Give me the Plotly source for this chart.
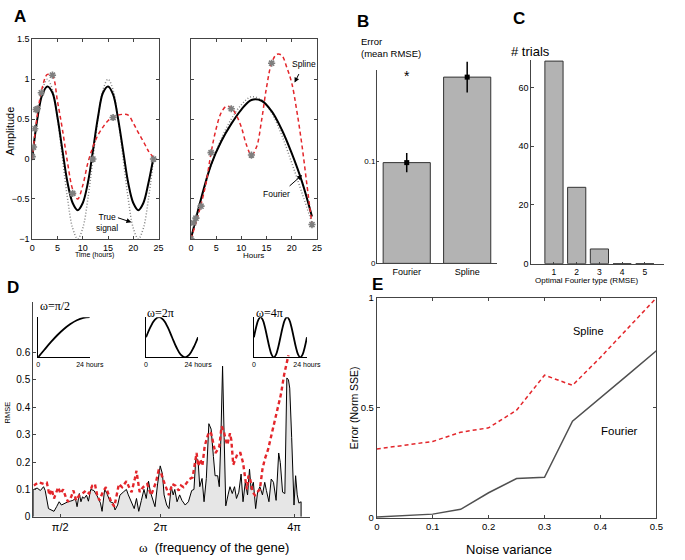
import plotly.graph_objects as go

W, H = 685, 560
def fx(p): return p / W
def fy(p): return 1 - p / H

FONT = "Liberation Sans, Arial, sans-serif"
SERIF = "Liberation Serif, Times New Roman, serif"
RED = "#e3262b"

# ---------------- Panel A data ----------------
a_hours = list(range(25))
a1_true = [0, 0.5, 0.866, 1, 0.866, 0.5, 0, -0.5, -0.866, -1, -0.866, -0.5, 0,
           0.5, 0.866, 1, 0.866, 0.5, 0, -0.5, -0.866, -1, -0.866, -0.5, 0]
a1_fourier = [0.02, 0.5, 0.81, 0.91, 0.83, 0.52, 0.1, -0.3, -0.55, -0.64, -0.55, -0.3, 0.1,
              0.52, 0.83, 0.91, 0.81, 0.5, 0.1, -0.3, -0.55, -0.64, -0.55, -0.3, 0.02]
a1_spline = [0.0, 0.55, 0.9, 1.06, 1.04, 0.72, 0.36, -0.05, -0.38, -0.5, -0.33, -0.05, 0.15,
             0.3, 0.4, 0.48, 0.52, 0.55, 0.56, 0.55, 0.45, 0.33, 0.22, 0.1, 0.02]
a1_pt_t = [0, 0.25, 0.5, 0.75, 1, 1.8, 4, 8, 12, 16, 24]
a1_pt_y = [0.03, 0.15, 0.38, 0.62, 0.63, 0.83, 1.05, -0.43, 0.0, 0.52, 0.0]

a2_hours = [0, 2, 4, 6, 8, 10, 12, 14, 16, 18, 20, 22, 24]
a2_true = [-1.0, -0.52, -0.08, 0.25, 0.5, 0.68, 0.78, 0.74, 0.58, 0.3, -0.05, -0.42, -0.8]
a2_fourier = [-1.0, -0.5, -0.07, 0.22, 0.44, 0.62, 0.74, 0.73, 0.6, 0.37, 0.07, -0.28, -0.72]
a2_spline_t = list(range(25))
a2_spline = [-1.0, -0.8, -0.57, -0.3, 0.08, 0.38, 0.58, 0.66, 0.64, 0.55, 0.4, 0.18, 0.05,
             0.15, 0.48, 0.9, 1.2, 1.31, 1.3, 1.15, 0.95, 0.6, 0.18, -0.32, -0.82]
a2_pt_t = [0, 0.5, 1, 2, 4, 8, 12, 16, 24]
a2_pt_y = [-1.0, -0.8, -0.74, -0.59, 0.08, 0.63, 0.05, 1.2, -0.82]

# ---------------- Panel B data ----------------
b_methods = ["Fourier", "Spline"]
b_mean_rmse = [0.099, 0.183]
b_err = [0.0095, 0.015]

# ---------------- Panel C data ----------------
c_types = [1, 2, 3, 4, 5]
c_trials = [69, 26, 5, 0, 0]

# ---------------- Panel D data (omega in units of pi) ----------------
d_omega_f = [0.097, 0.106, 0.155, 0.204, 0.252, 0.276, 0.325, 0.374, 0.408, 0.447, 0.485, 0.519,
             0.568, 0.617, 0.651, 0.690, 0.728, 0.753, 0.787, 0.811, 0.835, 0.860, 0.894, 0.923,
             0.957, 1.005, 1.054, 1.103, 1.127, 1.166, 1.200, 1.248, 1.297, 1.321, 1.360, 1.394,
             1.443, 1.491, 1.520, 1.569, 1.608, 1.642, 1.676, 1.715, 1.754, 1.788, 1.822, 1.851,
             1.885, 1.919, 1.958, 1.997, 2.031, 2.055, 2.094, 2.128, 2.162, 2.191, 2.215, 2.249,
             2.288, 2.322, 2.371, 2.419, 2.468, 2.502, 2.531, 2.565, 2.589, 2.623, 2.653, 2.687,
             2.725, 2.759, 2.793, 2.818, 2.857, 2.881, 2.905, 2.930, 2.954, 2.978, 3.012, 3.041,
             3.075, 3.109, 3.138, 3.173, 3.207, 3.236, 3.270, 3.304, 3.333, 3.357, 3.391, 3.425,
             3.454, 3.488, 3.527, 3.561, 3.586, 3.624, 3.658, 3.692, 3.731, 3.770, 3.794, 3.828,
             3.862, 3.892, 3.916, 3.935, 3.964, 3.999, 4.023, 4.047, 4.072, 4.105]
d_rmse_f = [0.10, 0.10, 0.105, 0.096, 0.11, 0.096, 0.03, 0.025, 0.02, 0.037, 0.055, 0.043,
            0.05, 0.055, 0.057, 0.06, 0.067, 0.037, 0.085, 0.055, 0.073, 0.067, 0.079, 0.057,
            0.10, 0.096, 0.076, 0.05, 0.02, 0.10, 0.085, 0.055, 0.05, 0.025, 0.043, 0.079,
            0.09, 0.10, 0.08, 0.055, 0.03, 0.067, 0.02, 0.06, 0.10, 0.067, 0.13, 0.09,
            0.067, 0.037, 0.12, 0.186, 0.156, 0.08, 0.043, 0.03, 0.11, 0.08, 0.10, 0.055,
            0.08, 0.06, 0.043, 0.055, 0.096, 0.10, 0.22, 0.20, 0.11, 0.14, 0.055, 0.14,
            0.34, 0.32, 0.22, 0.15, 0.15, 0.11, 0.29, 0.55, 0.29, 0.04, 0.08, 0.11,
            0.085, 0.11, 0.067, 0.09, 0.156, 0.055, 0.126, 0.08, 0.174, 0.10, 0.126, 0.03,
            0.09, 0.11, 0.08, 0.126, 0.096, 0.055, 0.138, 0.126, 0.06, 0.233, 0.198, 0.09,
            0.085, 0.507, 0.50, 0.47, 0.29, 0.043, 0.15, 0.08, 0.05, 0.055]
d_omega_s = [0.106, 0.179, 0.252, 0.301, 0.340, 0.374, 0.408, 0.471, 0.505, 0.544, 0.583, 0.617,
             0.665, 0.699, 0.738, 0.787, 0.835, 0.884, 0.932, 0.981, 1.020, 1.054, 1.088, 1.137,
             1.185, 1.224, 1.263, 1.311, 1.345, 1.379, 1.428, 1.491, 1.520, 1.569, 1.618, 1.642,
             1.656, 1.676, 1.690, 1.739, 1.802, 1.861, 1.933, 1.972, 2.006, 2.055, 2.094, 2.128,
             2.176, 2.225, 2.274, 2.308, 2.346, 2.395, 2.434, 2.482, 2.516, 2.541, 2.565, 2.599,
             2.628, 2.662, 2.696, 2.725, 2.759, 2.793, 2.823, 2.857, 2.881, 2.915, 2.944, 2.978,
             3.002, 3.041, 3.061, 3.090, 3.124, 3.158, 3.197, 3.236, 3.270, 3.294, 3.318, 3.343,
             3.381, 3.415, 3.449, 3.488, 3.527, 3.561, 3.610, 3.658, 3.707, 3.755, 3.804, 3.852,
             3.887, 3.916]
d_rmse_s = [0.114, 0.126, 0.12, 0.124, 0.079, 0.10, 0.067, 0.108, 0.085, 0.10, 0.073, 0.055,
            0.073, 0.096, 0.06, 0.079, 0.085, 0.096, 0.085, 0.114, 0.12, 0.079, 0.06, 0.09,
            0.108, 0.079, 0.055, 0.037, 0.073, 0.12, 0.108, 0.13, 0.114, 0.09, 0.14, 0.168,
            0.144, 0.12, 0.09, 0.108, 0.12, 0.079, 0.126, 0.168, 0.162, 0.126, 0.102, 0.079,
            0.12, 0.114, 0.096, 0.114, 0.108, 0.126, 0.138, 0.144, 0.198, 0.233, 0.186, 0.21,
            0.186, 0.257, 0.287, 0.31, 0.305, 0.27, 0.233, 0.245, 0.257, 0.33, 0.317, 0.28,
            0.263, 0.305, 0.28, 0.19, 0.21, 0.233, 0.233, 0.198, 0.138, 0.10, 0.15, 0.138,
            0.09, 0.079, 0.09, 0.10, 0.174, 0.21, 0.245, 0.293, 0.352, 0.40, 0.448, 0.52,
            0.56, 0.59]
d_ticks = [0.5, 2, 4]
d_ticktext = ["π/2", "2π", "4π"]

# insets (example genes over 24 hours)
ins1_t = [0, 3, 6, 9, 12, 15, 18, 21, 24]
ins1_y = [0, 0.195, 0.383, 0.556, 0.707, 0.831, 0.924, 0.981, 1.0]
ins2_t = [0, 2, 4, 6, 8, 10, 12, 14, 16, 18, 20, 22, 24]
ins2_y = [0.5, 0.75, 0.933, 1, 0.933, 0.75, 0.5, 0.25, 0.067, 0, 0.067, 0.25, 0.5]
ins3_t = list(range(25))
ins3_y = [0.5, 0.75, 0.933, 1, 0.933, 0.75, 0.5, 0.25, 0.067, 0, 0.067, 0.25, 0.5,
          0.75, 0.933, 1, 0.933, 0.75, 0.5, 0.25, 0.067, 0, 0.067, 0.25, 0.5]

# ---------------- Panel E data ----------------
e_noise = [0, 0.1, 0.15, 0.2, 0.25, 0.3, 0.35, 0.4, 0.45, 0.5]
e_spline = [0.314, 0.348, 0.39, 0.41, 0.49, 0.649, 0.603, 0.73, 0.865, 1.0]
e_fourier = [0.005, 0.018, 0.04, 0.115, 0.18, 0.185, 0.44, 0.545, 0.653, 0.76]

fig = go.Figure()

DOT = dict(color="#858585", width=1.5, dash="1px,2px", shape="spline")
DASH_A = dict(color=RED, width=1.5, dash="4px,3px", shape="spline")

# Panel A left
fig.add_trace(go.Scatter(x=a_hours, y=a1_true, mode="lines", xaxis="x", yaxis="y", line=DOT))
fig.add_trace(go.Scatter(x=a_hours, y=a1_fourier, mode="lines", xaxis="x", yaxis="y",
                         line=dict(color="black", width=2, shape="spline")))
fig.add_trace(go.Scatter(x=a_hours, y=a1_spline, mode="lines", xaxis="x", yaxis="y", line=DASH_A))
fig.add_trace(go.Scatter(x=a1_pt_t, y=a1_pt_y, mode="markers", xaxis="x", yaxis="y",
                         marker=dict(symbol="asterisk-open", size=6, color="#7f7f7f",
                                     line=dict(color="#7f7f7f", width=1.6))))
# Panel A right
fig.add_trace(go.Scatter(x=a2_hours, y=a2_true, mode="lines", xaxis="x2", yaxis="y2", line=DOT))
fig.add_trace(go.Scatter(x=a2_hours, y=a2_fourier, mode="lines", xaxis="x2", yaxis="y2",
                         line=dict(color="black", width=2, shape="spline")))
fig.add_trace(go.Scatter(x=a2_spline_t, y=a2_spline, mode="lines", xaxis="x2", yaxis="y2", line=DASH_A))
fig.add_trace(go.Scatter(x=a2_pt_t, y=a2_pt_y, mode="markers", xaxis="x2", yaxis="y2",
                         marker=dict(symbol="asterisk-open", size=6, color="#7f7f7f",
                                     line=dict(color="#7f7f7f", width=1.6))))

# Panel B
fig.add_trace(go.Bar(x=b_methods, y=b_mean_rmse, xaxis="x3", yaxis="y3", width=0.78,
                     marker=dict(color="#b3b3b3", line=dict(color="#333333", width=1))))
fig.add_trace(go.Scatter(x=b_methods, y=b_mean_rmse, mode="markers", xaxis="x3", yaxis="y3",
                         marker=dict(symbol="square", size=5, color="black"),
                         error_y=dict(type="data", array=b_err, color="black", thickness=1.5, width=0),
                         cliponaxis=False))

# Panel C
fig.add_trace(go.Bar(x=c_types, y=c_trials, xaxis="x4", yaxis="y4", width=0.8,
                     marker=dict(color="#b3b3b3", line=dict(color="#333333", width=1))))

# Panel D
fill_x = [d_omega_f[0]] + d_omega_f + [d_omega_f[-1]]
fill_y = [0] + d_rmse_f + [0]
fig.add_trace(go.Scatter(x=fill_x, y=fill_y, mode="lines", xaxis="x5", yaxis="y5",
                         fill="toself", fillcolor="#e6e6e6",
                         line=dict(color="black", width=1)))
fig.add_trace(go.Scatter(x=d_omega_s, y=d_rmse_s, mode="lines", xaxis="x5", yaxis="y5",
                         line=dict(color=RED, width=2.4, dash="4px,3px")))
for i, (tt, yy) in enumerate([(ins1_t, ins1_y), (ins2_t, ins2_y), (ins3_t, ins3_y)]):
    n = 6 + i
    fig.add_trace(go.Scatter(x=tt, y=yy, mode="lines", xaxis=f"x{n}", yaxis=f"y{n}",
                             line=dict(color="black", width=1.8, shape="spline"), cliponaxis=False))

# Panel E
fig.add_trace(go.Scatter(x=e_noise, y=e_spline, mode="lines", xaxis="x9", yaxis="y9",
                         line=dict(color=RED, width=1.5, dash="4px,3px")))
fig.add_trace(go.Scatter(x=e_noise, y=e_fourier, mode="lines", xaxis="x9", yaxis="y9",
                         line=dict(color="#505050", width=1.5)))

def dom_x(l, r): return [fx(l), fx(r)]
def dom_y(t, b): return [fy(b), fy(t)]

box = dict(showline=True, linecolor="#444", linewidth=1, mirror="ticks", ticks="inside",
           ticklen=3, tickcolor="#444", showgrid=False, zeroline=False)

layout = dict(
    width=W, height=H, margin=dict(l=0, r=0, t=0, b=0),
    paper_bgcolor="white", plot_bgcolor="rgba(0,0,0,0)", showlegend=False,
    font=dict(family=FONT, color="black"),
    xaxis=dict(domain=dom_x(30, 159.5), range=[0, 25], tickvals=[0, 5, 10, 15, 20, 25],
               anchor="y", tickfont=dict(size=9), **box),
    yaxis=dict(domain=dom_y(34, 238), range=[-1, 1.5], tickvals=[-1, -0.5, 0, 0.5, 1, 1.5],
               anchor="x", tickfont=dict(size=9), **box),
    xaxis2=dict(domain=dom_x(192.7, 322), range=[0, 25], tickvals=[0, 5, 10, 15, 20, 25],
                anchor="y2", tickfont=dict(size=9), **box),
    yaxis2=dict(domain=dom_y(34, 238), range=[-1, 1.5], tickvals=[-1, -0.5, 0, 0.5, 1, 1.5],
                anchor="x2", showticklabels=False, **box),
    xaxis3=dict(domain=dom_x(383, 507), range=[-0.5, 1.5], anchor="y3", showline=True,
                linecolor="#444", ticks="", showgrid=False, zeroline=False,
                tickfont=dict(size=9)),
    yaxis3=dict(domain=dom_y(55, 263), range=[0, 0.2], anchor="x3", tickvals=[0, 0.1],
                ticktext=["0", "0.1"], ticks="inside", ticklen=3, tickcolor="#444",
                showline=False, showgrid=False, zeroline=False, tickfont=dict(size=8)),
    xaxis4=dict(domain=dom_x(541.7, 678), range=[0, 5.85], anchor="y4", tickvals=c_types,
                showline=True, linecolor="#444", ticks="inside", ticklen=2, tickcolor="#444",
                showgrid=False, zeroline=False, tickfont=dict(size=8.5)),
    yaxis4=dict(domain=dom_y(54.8, 263.3), range=[0, 69.5], anchor="x4", tickvals=[0, 20, 40, 60],
                showline=True, linecolor="#444", ticks="inside", ticklen=3, tickcolor="#444",
                showgrid=False, zeroline=False, tickfont=dict(size=9)),
    xaxis5=dict(domain=dom_x(31, 315), range=[0.097, 4.241], anchor="y5", tickvals=d_ticks,
                ticktext=d_ticktext, showline=True, linecolor="#444", ticks="inside", ticklen=3,
                tickcolor="#444", showgrid=False, zeroline=False, tickfont=dict(size=11)),
    yaxis5=dict(domain=dom_y(302, 522), range=[0, 0.786], anchor="x5",
                tickvals=[0, 0.1, 0.2, 0.3, 0.4, 0.5, 0.6],
                ticktext=["0", "0.1", "0.2", "0.3", "0.4", "0.5", "0.6"],
                showline=True, linecolor="#444", ticks="inside", ticklen=3, tickcolor="#444",
                showgrid=False, zeroline=False, tickfont=dict(size=10)),
    xaxis9=dict(domain=dom_x(383.3, 670), range=[0, 0.5], anchor="y9",
                tickvals=[0, 0.1, 0.2, 0.3, 0.4, 0.5], tickfont=dict(size=9.5), **box),
    yaxis9=dict(domain=dom_y(298.3, 523.3), range=[0, 1], anchor="x9", tickvals=[0, 0.5, 1],
                tickfont=dict(size=9.5), **box),
)
ins_x = [(36, 89), (146.7, 200), (257.3, 311.7)]
for i, (l, r) in enumerate(ins_x):
    n = 6 + i
    layout[f"xaxis{n}"] = dict(domain=dom_x(l, r), range=[0, 24], anchor=f"y{n}",
                               tickvals=[0, 24], ticktext=["0", "24 hours"], ticks="",
                               showline=True, linecolor="black", linewidth=1,
                               showgrid=False, zeroline=False,
                               tickfont=dict(size=7, color="black"))
    layout[f"yaxis{n}"] = dict(domain=dom_y(318, 359), range=[0, 1], anchor=f"x{n}",
                               showticklabels=False, ticks="", showline=True, linecolor="black",
                               linewidth=1, showgrid=False, zeroline=False)
fig.update_layout(**layout)

# B y-axis line (stops at 0.19)
fig.add_shape(type="line", xref="x3 domain", yref="y3", x0=0, x1=0, y0=0, y1=0.19,
              line=dict(color="#444", width=1))

def txt(x, y, s, size, xanchor="center", angle=0, family=FONT, bold=False):
    fig.add_annotation(x=fx(x), y=fy(y), xref="paper", yref="paper", text=f"<b>{s}</b>" if bold else s,
                       showarrow=False, xanchor=xanchor, yanchor="middle", textangle=angle,
                       font=dict(size=size, family=family, color="black"))

def arrow(hx, hy, tx, ty):
    fig.add_annotation(x=fx(hx), y=fy(hy), xref="paper", yref="paper", text="",
                       showarrow=True, ax=tx - hx, ay=ty - hy, arrowhead=2, arrowsize=1,
                       arrowwidth=1, arrowcolor="black")

# panel letters
for s, x, y in [("A", 17, 11), ("B", 369, 16), ("C", 529, 13), ("D", 10, 288), ("E", 384, 285)]:
    txt(x, y, s, 17, bold=True)

# A texts
txt(7.5, 128, "Amplitude", 11, angle=-90)
txt(94, 254.5, "Time (hours)", 7)
txt(257.3, 255, "Hours", 8)
txt(107, 221.5, "True<br>signal", 8.5)
txt(308.3, 59.3, "Spline", 8.5)
txt(280, 192.3, "Fourier", 8.5)
arrow(131.7, 221, 116.7, 216)
arrow(299, 78.3, 304, 68.3)
arrow(306.7, 172.7, 292.7, 185)

# B texts
txt(365, 36, "Error", 9.5, xanchor="left")
txt(365, 49, "(mean RMSE)", 9.5, xanchor="left")
txt(414, 72, "*", 14)

# C texts
txt(519, 47, "# trials", 13, xanchor="left")
txt(598, 280.5, "Optimal Fourier type (RMSE)", 8)

# D texts
txt(4.5, 415, "RMSE", 7.5, angle=-90)
txt(216, 553, f'<span style="font-family:{SERIF}">ω</span>  (frequency of the gene)', 13)
txt(53.5, 307, "ω=π/2", 12, family=SERIF)
txt(161.7, 313.5, "ω=2π", 12, family=SERIF)
txt(273.5, 313.5, "ω=4π", 12, family=SERIF)

# E texts
txt(600, 331.7, "Spline", 11)
txt(631.7, 434, "Fourier", 11.5)
txt(360, 411, "Error (Norm SSE)", 10.5, angle=-90)
txt(518.7, 555, "Noise variance", 13)

fig.write_html("out.html", config={"displayModeBar": False},
               post_script="document.body.style.margin='0px';document.body.style.padding='0px';")
